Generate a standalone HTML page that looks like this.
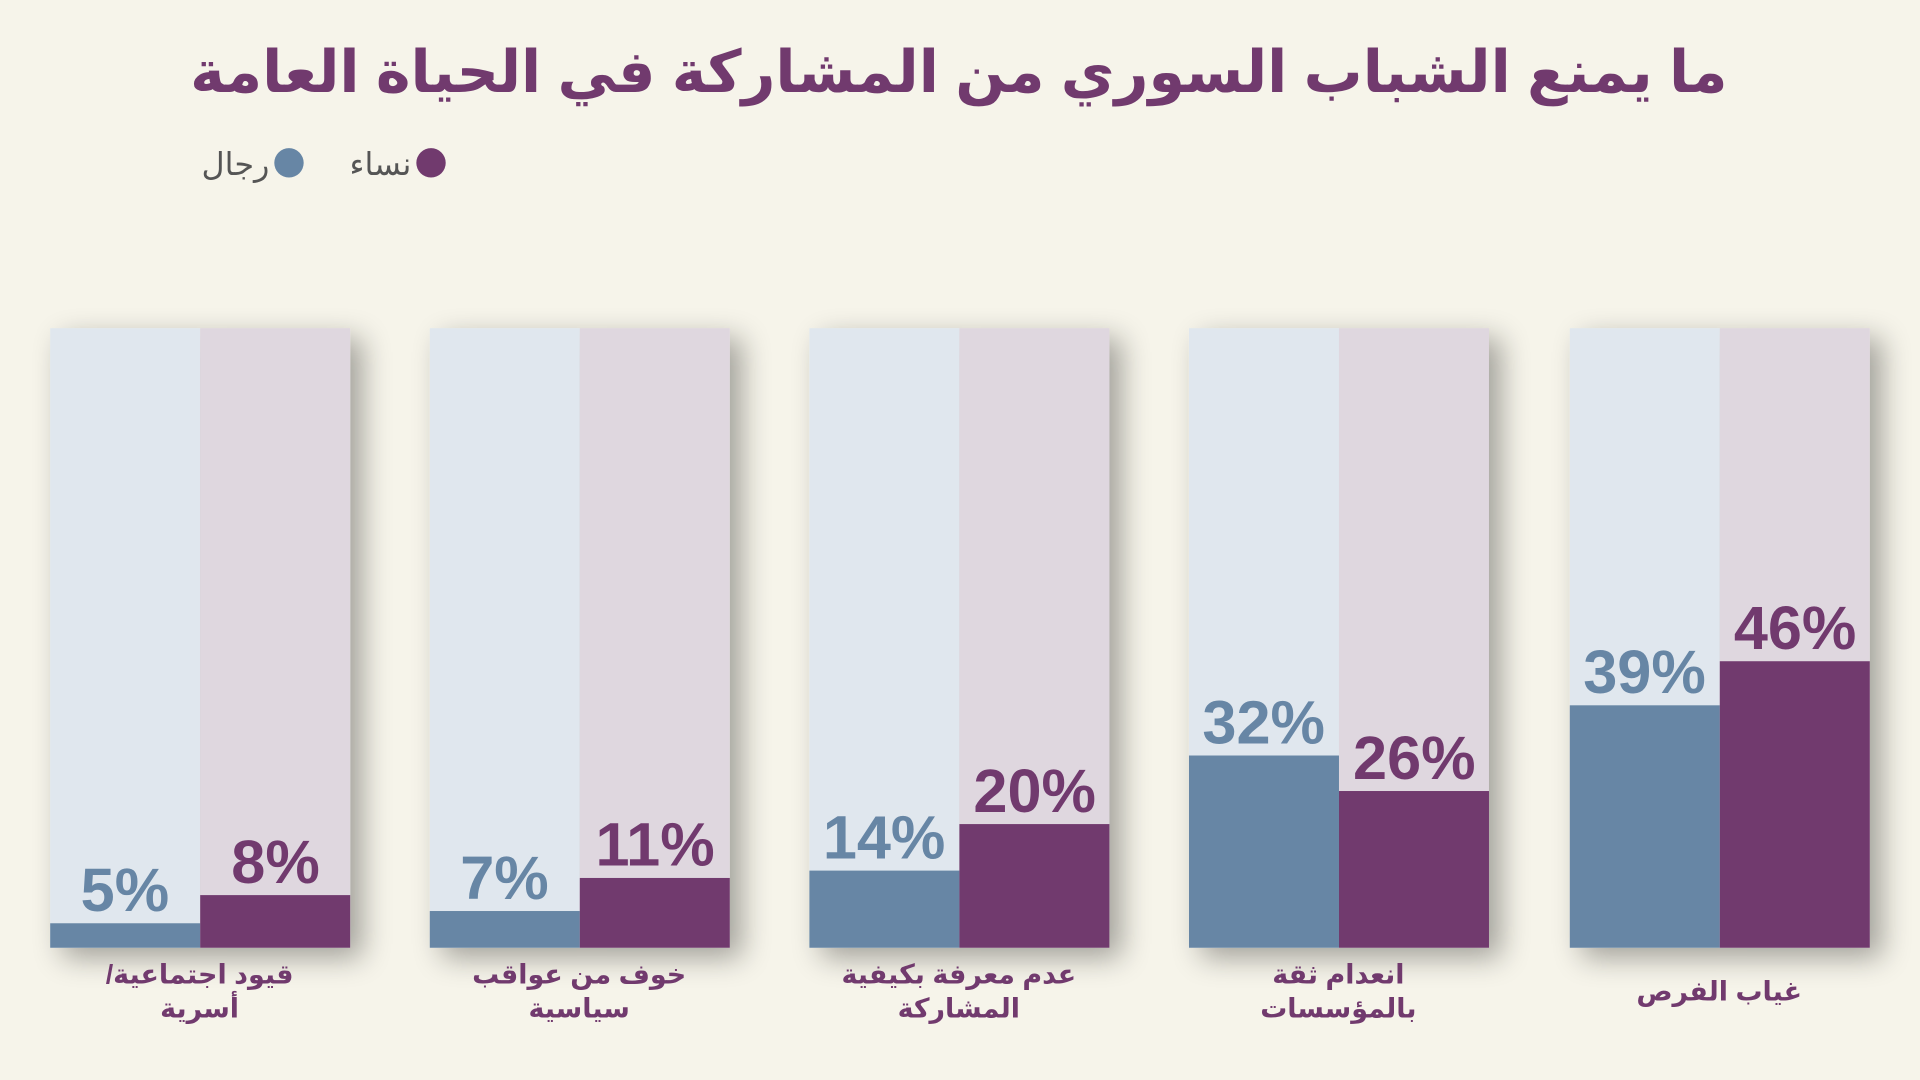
<!DOCTYPE html>
<html><head><meta charset="utf-8"><style>
html,body{margin:0;padding:0;background:#f6f4ea;}
svg{display:block}
text{font-family:"Liberation Sans","DejaVu Sans",sans-serif;font-weight:bold}
</style></head><body>
<svg width="1920" height="1080" viewBox="0 0 1568 882" xmlns="http://www.w3.org/2000/svg">
<defs>
<filter id="sh" x="-20%" y="-10%" width="150%" height="130%">
<feGaussianBlur in="SourceAlpha" stdDeviation="12"/>
<feOffset dx="10" dy="8"/>
<feComponentTransfer><feFuncA type="linear" slope="0.35"/></feComponentTransfer>
<feMerge><feMergeNode/><feMergeNode in="SourceGraphic"/></feMerge>
</filter>
</defs>
<rect width="1568" height="882" fill="#f6f4ea"/>
<text x="783" y="75" text-anchor="middle" font-size="48" fill="#713a6e" direction="rtl">ما يمنع الشباب السوري من المشاركة في الحياة العامة</text>
<circle cx="352" cy="133" r="12" fill="#713a6e"/>
<text x="336" y="143" text-anchor="start" font-size="26" fill="#555" style="font-weight:normal" direction="rtl">نساء</text>
<circle cx="236" cy="133" r="12" fill="#6786a5"/>
<text x="220" y="143" text-anchor="start" font-size="26" fill="#555" style="font-weight:normal" direction="rtl">رجال</text>

<g id="bars">
<g filter="url(#sh)"><rect x="41" y="268" width="122.5" height="506" fill="#e0e7ee"/><rect x="163.5" y="268" width="122.5" height="506" fill="#dfd7df"/></g>
<rect x="41" y="754" width="122.5" height="20" fill="#6786a5"/>
<rect x="163.5" y="731" width="122.5" height="43" fill="#713a6e"/>
<text x="102" y="744" text-anchor="middle" font-size="50" fill="#6786a5">5%</text>
<text x="225" y="721" text-anchor="middle" font-size="50" fill="#713a6e">8%</text>
<text x="163" y="803" text-anchor="middle" font-size="22" fill="#713a6e" direction="rtl">قيود اجتماعية/</text>
<text x="163" y="831" text-anchor="middle" font-size="22" fill="#713a6e" direction="rtl">أسرية</text>

<g filter="url(#sh)"><rect x="351" y="268" width="122.5" height="506" fill="#e0e7ee"/><rect x="473.5" y="268" width="122.5" height="506" fill="#dfd7df"/></g>
<rect x="351" y="744" width="122.5" height="30" fill="#6786a5"/>
<rect x="473.5" y="717" width="122.5" height="57" fill="#713a6e"/>
<text x="412" y="734" text-anchor="middle" font-size="50" fill="#6786a5">7%</text>
<text x="535" y="707" text-anchor="middle" font-size="50" fill="#713a6e">11%</text>
<text x="473" y="803" text-anchor="middle" font-size="22" fill="#713a6e" direction="rtl">خوف من عواقب</text>
<text x="473" y="831" text-anchor="middle" font-size="22" fill="#713a6e" direction="rtl">سياسية</text>

<g filter="url(#sh)"><rect x="661" y="268" width="122.5" height="506" fill="#e0e7ee"/><rect x="783.5" y="268" width="122.5" height="506" fill="#dfd7df"/></g>
<rect x="661" y="711" width="122.5" height="63" fill="#6786a5"/>
<rect x="783.5" y="673" width="122.5" height="101" fill="#713a6e"/>
<text x="722" y="701" text-anchor="middle" font-size="50" fill="#6786a5">14%</text>
<text x="845" y="663" text-anchor="middle" font-size="50" fill="#713a6e">20%</text>
<text x="783" y="803" text-anchor="middle" font-size="22" fill="#713a6e" direction="rtl">عدم معرفة بكيفية</text>
<text x="783" y="831" text-anchor="middle" font-size="22" fill="#713a6e" direction="rtl">المشاركة</text>

<g filter="url(#sh)"><rect x="971" y="268" width="122.5" height="506" fill="#e0e7ee"/><rect x="1093.5" y="268" width="122.5" height="506" fill="#dfd7df"/></g>
<rect x="971" y="617" width="122.5" height="157" fill="#6786a5"/>
<rect x="1093.5" y="646" width="122.5" height="128" fill="#713a6e"/>
<text x="1032" y="607" text-anchor="middle" font-size="50" fill="#6786a5">32%</text>
<text x="1155" y="636" text-anchor="middle" font-size="50" fill="#713a6e">26%</text>
<text x="1093" y="803" text-anchor="middle" font-size="22" fill="#713a6e" direction="rtl">انعدام ثقة</text>
<text x="1093" y="831" text-anchor="middle" font-size="22" fill="#713a6e" direction="rtl">بالمؤسسات</text>

<g filter="url(#sh)"><rect x="1282" y="268" width="122.5" height="506" fill="#e0e7ee"/><rect x="1404.5" y="268" width="122.5" height="506" fill="#dfd7df"/></g>
<rect x="1282" y="576" width="122.5" height="198" fill="#6786a5"/>
<rect x="1404.5" y="540" width="122.5" height="234" fill="#713a6e"/>
<text x="1343" y="566" text-anchor="middle" font-size="50" fill="#6786a5">39%</text>
<text x="1466" y="530" text-anchor="middle" font-size="50" fill="#713a6e">46%</text>
<text x="1404" y="817" text-anchor="middle" font-size="22" fill="#713a6e" direction="rtl">غياب الفرص</text>
</g>
</svg>
</body></html>
